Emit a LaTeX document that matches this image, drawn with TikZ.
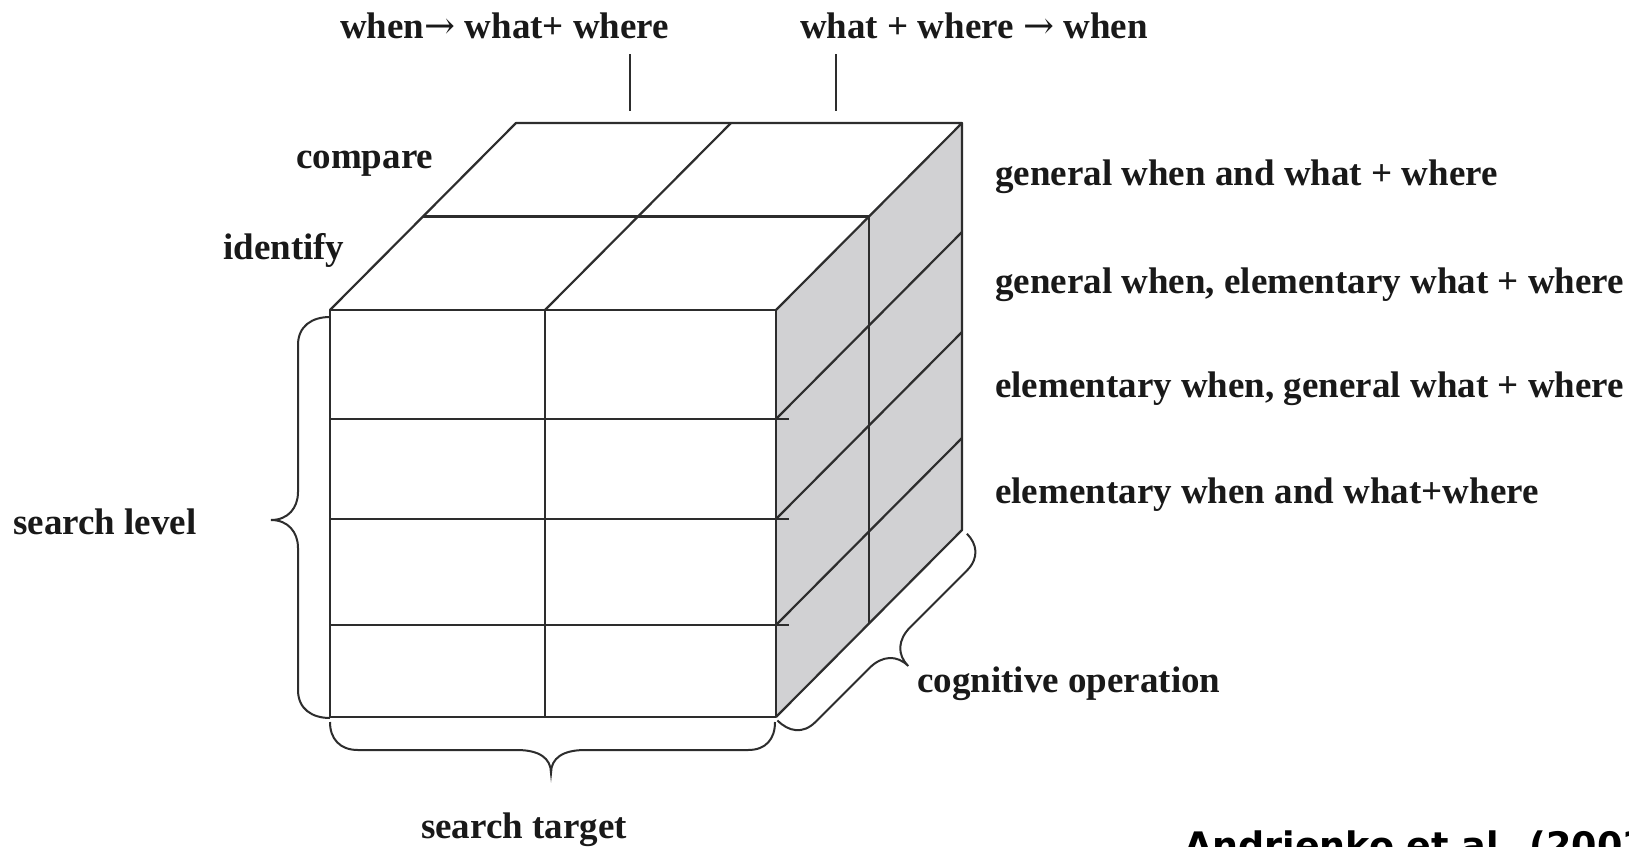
\documentclass[tikz,border=0pt]{standalone}
\usepackage{fontspec}
\setmainfont{Liberation Serif}
\newfontfamily\citefont{DejaVu Sans}
\newfontfamily\arrowfont{DejaVu Serif}
\newcommand{\myarrow}{{\arrowfont\mdseries →}}
\definecolor{facegray}{RGB}{209,209,211}
\definecolor{edgecol}{RGB}{45,45,45}
\begin{document}
\begin{tikzpicture}[x=1pt,y=-1pt,
  edge/.style={draw=edgecol,line width=2.2pt,line join=round},
  lbl/.style={inner sep=0pt,text=black!90,font=\fontsize{37}{40}\selectfont\bfseries},
  brc/.style={draw=edgecol,line width=2pt},
  tick/.style={draw=edgecol,line width=2pt}]
\useasboundingbox (0,0) rectangle (1629,846);
\fill[white] (0,0) rectangle (1629,846);
% cube corners
\coordinate (FTL) at (330,310);
\coordinate (FTR) at (776,310);
\coordinate (FBL) at (330,717);
\coordinate (FBR) at (776,717);
\coordinate (BTL) at (516,123);
\coordinate (BTR) at (962,123);
\coordinate (BBR) at (962,530);
\coordinate (MTL) at (423,216.5);
\coordinate (MTR) at (869,216.5);
\coordinate (MBR) at (869,623.5);
\coordinate (FTM) at (545,310);
\coordinate (FBM) at (545,717);
\coordinate (BTM) at (731,123);
% right face fill
\fill[facegray] (FTR) -- (BTR) -- (BBR) -- (FBR) -- cycle;
% front face
\draw[edge] (FTL) rectangle (FBR);
\draw[edge] (FTM) -- (FBM);
\foreach \yy [count=\i] in {419,519,625}{
  \coordinate (HL\i) at (330,\yy);
  \coordinate (HR\i) at (789,\yy);
  \coordinate (HF\i) at (776,\yy);
  \coordinate (HB\i) at (962,\yy-187);
  \draw[edge] (HL\i) -- (HR\i);
  \draw[edge] (HF\i) -- (HB\i);
}
% top face
\draw[edge] (FTL) -- (BTL) -- (BTR) -- (FTR);
\draw[edge] (MTL) -- (MTR);
\draw[edge] (FTM) -- (BTM);
% right face
\draw[edge] (BTR) -- (BBR) -- (FBR);
\draw[edge] (MTR) -- (MBR);
% top labels and ticks
\node[lbl,anchor=base west] (whenwhat) at (340,38) {when\myarrow{} what+ where};
\node[lbl,anchor=base west] (whatwhen) at (800,38) {what + where \myarrow{} when};
\coordinate (T1a) at (630,54); \coordinate (T1b) at (630,111);
\coordinate (T2a) at (836,54); \coordinate (T2b) at (836,111);
\draw[tick] (T1a) -- (T1b);
\draw[tick] (T2a) -- (T2b);
% left labels
\node[lbl,anchor=base west] (compare) at (296,168) {compare};
\node[lbl,anchor=base west] (identify) at (223,259) {identify};
\node[lbl,anchor=base west] (slevel) at (13,534) {search level};
\node[lbl,anchor=base] (starget) at (524,838) {search target};
\node[lbl,anchor=base west] (cogop) at (917,692) {cognitive operation};
% right labels
\node[lbl,anchor=base west] (r1) at (995,185) {general when and what + where};
\node[lbl,anchor=base west] (r2) at (995,293) {general when, elementary what + where};
\node[lbl,anchor=base west] (r3) at (995,397) {elementary when, general what + where};
\node[lbl,anchor=base west] (r4) at (995,503) {elementary when and what+where};
% braces
\draw[brc] (330,317) .. controls (312,317) and (298,326) .. (298,345) -- (298,492)
  .. controls (298,508) and (288,520) .. (271,520)
  .. controls (288,520) and (298,532) .. (298,548) -- (298,690)
  .. controls (298,709) and (312,718) .. (330,718);
\draw[brc] (330,722) .. controls (330,739) and (340,750) .. (358,750) -- (517,750)
  .. controls (539,750) and (551,758) .. (551,773)
  .. controls (551,758) and (563,750) .. (585,750) -- (748,750)
  .. controls (766,750) and (775,739) .. (775,722);
\begin{scope}[shift={(776,719)},rotate=45]
\draw[brc] (0,2) .. controls (0,18) and (8,30) .. (26,30) -- (102,30)
  .. controls (120,30) and (131,40) .. (131,56)
  .. controls (131,40) and (142,30) .. (160,30) -- (240,30)
  .. controls (258,30) and (266,18) .. (266,4);
\end{scope}
% citation
\node[inner sep=0pt,anchor=base west,text=black,font=\citefont\bfseries\fontsize{36.5}{40}\selectfont] (cite) at (1184,858) {Andrienko et al. (2003)};
\end{tikzpicture}
\end{document}
